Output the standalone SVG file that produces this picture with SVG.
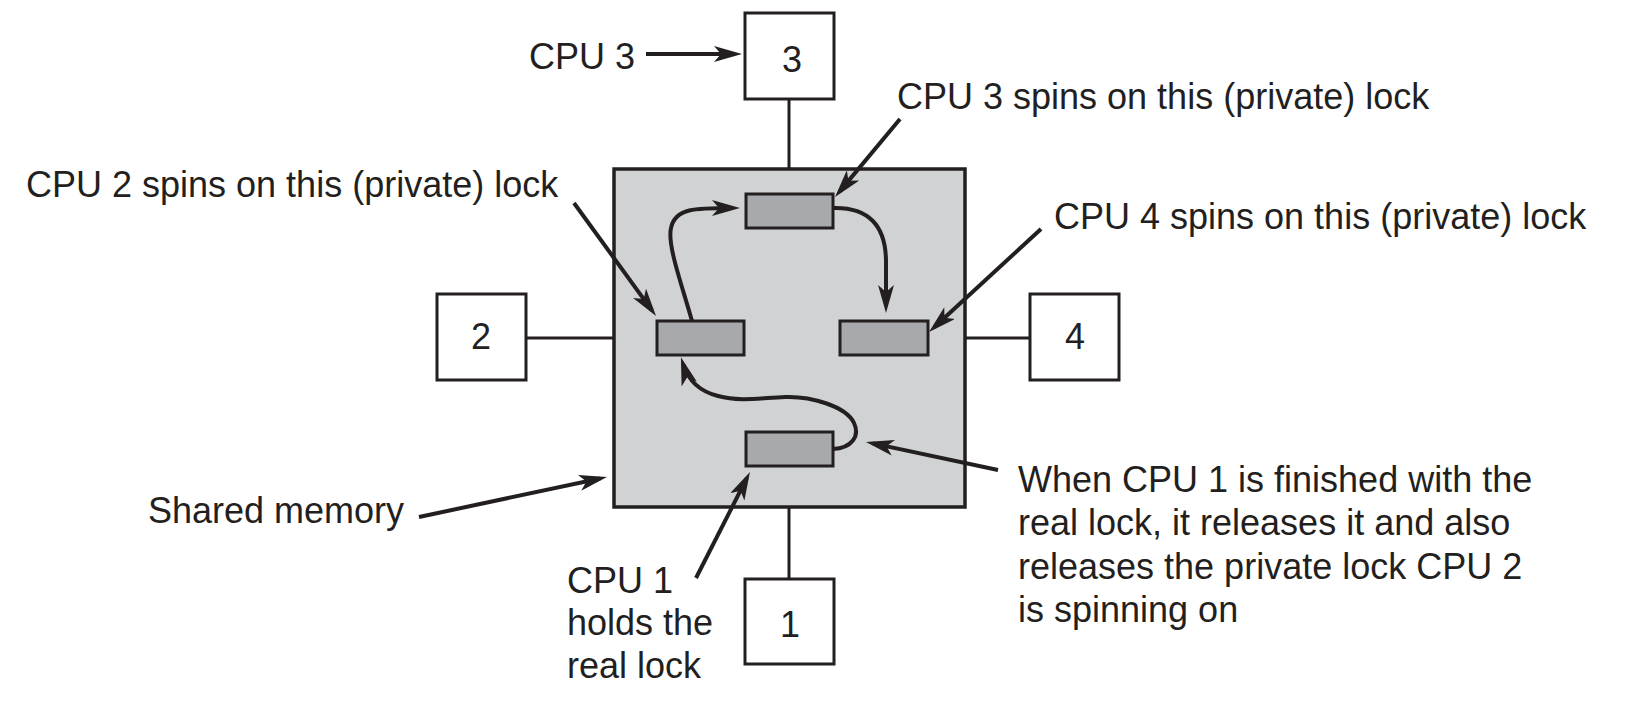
<svg xmlns="http://www.w3.org/2000/svg" width="1651" height="707" viewBox="0 0 1651 707">
<defs>
<style>
.t{font-family:"Liberation Sans",Arial,Helvetica,sans-serif;font-size:36px;fill:#231f20}
.box{fill:#ffffff;stroke:#231f20;stroke-width:3}
.mem{fill:#d1d2d4;stroke:#231f20;stroke-width:3.5}
.lk{fill:#a7a9ac;stroke:#231f20;stroke-width:3}
.ln{fill:none;stroke:#231f20;stroke-width:3}
.ar{fill:none;stroke:#231f20;stroke-width:4;marker-end:url(#ah)}
</style>
<marker id="ah" markerUnits="userSpaceOnUse" markerWidth="28" markerHeight="16" viewBox="0 0 28 16" refX="21" refY="8" orient="auto">
<path d="M0,0 L28,8 L0,16 L7,8 Z" fill="#231f20"/>
</marker>
</defs>
<rect width="1651" height="707" fill="#ffffff"/>

<g id="links">
<line class="ln" x1="789" y1="99" x2="789" y2="169"/>
<line class="ln" x1="526" y1="338" x2="614" y2="338"/>
<line class="ln" x1="965" y1="338" x2="1030" y2="338"/>
<line class="ln" x1="789" y1="507" x2="789" y2="579"/>
</g>

<g id="shared-memory">
<rect class="mem" x="614" y="169" width="351" height="338"/>
</g>

<g id="lock-top"><rect class="lk" x="746" y="194" width="87" height="34"/></g>
<g id="lock-left"><rect class="lk" x="657" y="321" width="87" height="34"/></g>
<g id="lock-right"><rect class="lk" x="840" y="321" width="88" height="34"/></g>
<g id="lock-bottom"><rect class="lk" x="746" y="432" width="87" height="34"/></g>

<g id="cpu3"><rect class="box" x="745" y="13" width="89" height="86"/><text class="t" x="792" y="72" text-anchor="middle">3</text></g>
<g id="cpu2"><rect class="box" x="437" y="294" width="89" height="86"/><text class="t" x="481" y="349" text-anchor="middle">2</text></g>
<g id="cpu4"><rect class="box" x="1030" y="294" width="89" height="86"/><text class="t" x="1075" y="349" text-anchor="middle">4</text></g>
<g id="cpu1"><rect class="box" x="745" y="579" width="89" height="85"/><text class="t" x="790" y="637" text-anchor="middle">1</text></g>

<g id="connectors">
<path class="ar" d="M646,54 L735,54"/>
<path class="ar" d="M900,119 L839.5,191.6"/>
<path class="ar" d="M1041,229 L934.2,327.3"/>
<path class="ar" d="M574,203 L651.9,310.3"/>
<path class="ar" d="M419,517 L600.1,478.5"/>
<path class="ar" d="M696,578 L746.8,478.2"/>
<path class="ar" d="M998,470 L872.8,443.4"/>
<path class="ar" d="M692,321 C682,285 667,245 671,228 C675,208 695,208 733,208"/>
<path class="ar" d="M833,208 C868,207 886,225 886,262 L886,306"/>
<path class="ar" d="M833,449 C852,448 860,436 854,423 C846,406 810,396 785,397 C760,398 740,402 718,396 C698,391 688,380 683,364"/>
</g>

<g id="labels">
<text class="t" x="529" y="69">CPU 3</text>
<text class="t" x="897" y="109">CPU 3 spins on this (private) lock</text>
<text class="t" x="26" y="197">CPU 2 spins on this (private) lock</text>
<text class="t" x="1054" y="229">CPU 4 spins on this (private) lock</text>
<text class="t" x="148" y="523">Shared memory</text>
<text class="t" x="567" y="593">CPU 1</text>
<text class="t" x="567" y="635">holds the</text>
<text class="t" x="567" y="678">real lock</text>
<text class="t" x="1018" y="492">When CPU 1 is finished with the</text>
<text class="t" x="1018" y="535">real lock, it releases it and also</text>
<text class="t" x="1018" y="579">releases the private lock CPU 2</text>
<text class="t" x="1018" y="622">is spinning on</text>
</g>
</svg>
